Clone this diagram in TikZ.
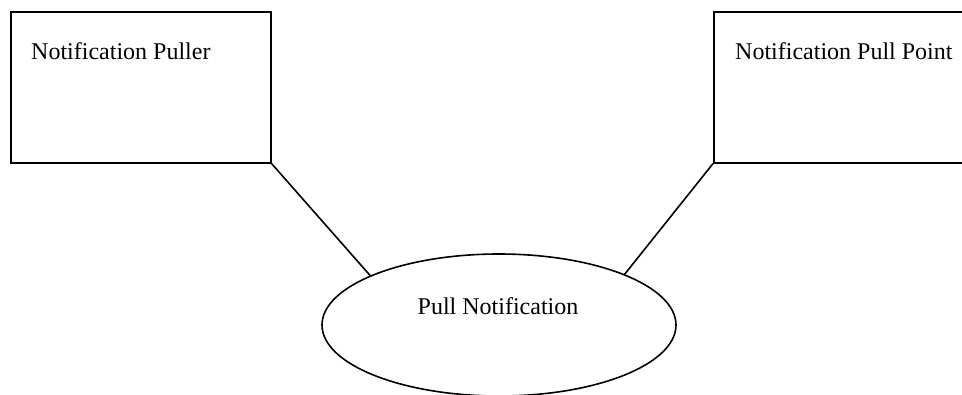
\documentclass[tikz,border=0pt]{standalone}
\usepackage{fontspec}
\setmainfont{Liberation Serif}
\usetikzlibrary{shapes.geometric}
\begin{document}
\begin{tikzpicture}[x=1pt,y=-1pt,
  box/.style={draw=black,line width=1.6pt,rectangle,inner sep=0pt,anchor=north west},
  oval/.style={draw=black,line width=1.6pt,ellipse,inner sep=0pt,minimum width=354pt,minimum height=142pt},
  lbl/.style={inner sep=0pt,anchor=base west,font=\fontsize{24}{28}\selectfont},
  conn/.style={draw=black,line width=1.6pt}]
\useasboundingbox (0,0) rectangle (962,395);
\fill[white] (0,0) rectangle (962,395);
\node[box,minimum width=260pt,minimum height=151pt] (a) at (10,11) {};
\node[box,minimum width=270pt,minimum height=151pt] (b) at (713,11) {};
\node[oval] (c) at (499,325) {};
\node[lbl] (at) at (31,60) {Notification Puller};
\node[lbl] (bt) at (735,60) {Notification Pull Point};
\node[lbl,anchor=base] (ct) at (498,315) {Pull Notification};
\draw[conn] (a.south east) -- (c.159);
\draw[conn] (b.south west) -- (c.22);
\end{tikzpicture}
\end{document}
